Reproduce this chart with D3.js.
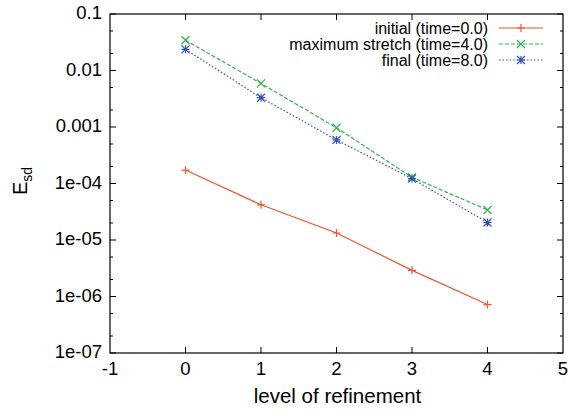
<!DOCTYPE html>
<html>
<head>
<meta charset="utf-8">
<script src="https://cdn.jsdelivr.net/npm/d3@7"></script>
<style>
  body { margin: 0; background: #fff; }
  svg { display: block; font-family: "Liberation Sans", Arial, sans-serif; }
</style>
</head>
<body>
<svg id="chart" width="568" height="411"></svg>
<script>
// refinement levels
const levels = [0, 1, 2, 3, 4];
// error norms per refinement level
const initialErr = [1.73e-4, 4.2e-5, 1.33e-5, 2.9e-6, 7.2e-7];
const stretchErr = [0.0343, 0.0059, 0.00097, 1.29e-4, 3.4e-5];
const finalErr = [0.0237, 0.0033, 5.9e-4, 1.22e-4, 2.04e-5];

const xTicks = [-1, 0, 1, 2, 3, 4, 5];
const yTicks = [1e-7, 1e-6, 1e-5, 1e-4, 1e-3, 1e-2, 1e-1];
const yTickLabels = ["1e-07", "1e-06", "1e-05", "1e-04", "0.001", "0.01", "0.1"];
const seriesNames = ["initial (time=0.0)", "maximum stretch (time=4.0)", "final (time=8.0)"];

const series = [
  { name: seriesNames[0], values: initialErr, color: "#ee5530", dash: null, marker: "plus" },
  { name: seriesNames[1], values: stretchErr, color: "#2db54c", dash: "4,2", marker: "cross" },
  { name: seriesNames[2], values: finalErr, color: "#3352b3", dash: "1.5,2", marker: "star" }
];

const margin = { left: 110, top: 14, right: 5, bottom: 58 };
const W = 568, H = 411;
const x0 = margin.left, x1 = W - margin.right, y0 = margin.top, y1 = H - margin.bottom;

const svg = d3.select("#chart");
const x = d3.scaleLinear().domain([-1, 5]).range([x0, x1]);
const y = d3.scaleLog().domain([1e-7, 0.1]).range([y1, y0]);

// minor ticks at 2x and 5x each decade
const minor = [];
for (let e = -7; e < -1; e++) { minor.push(2 * Math.pow(10, e), 5 * Math.pow(10, e)); }

const axisColor = "#000";
const g = svg.append("g");

// frame
g.append("rect").attr("x", x0).attr("y", y0).attr("width", x1 - x0).attr("height", y1 - y0)
  .attr("fill", "none").attr("stroke", axisColor).attr("stroke-width", 1.2);

// x ticks (bottom and top)
xTicks.forEach(t => {
  if (t === -1 || t === 5) return;
  g.append("line").attr("x1", x(t)).attr("x2", x(t)).attr("y1", y1).attr("y2", y1 - 6).attr("stroke", axisColor);
  g.append("line").attr("x1", x(t)).attr("x2", x(t)).attr("y1", y0).attr("y2", y0 + 6).attr("stroke", axisColor);
});
// y major ticks (left and right)
yTicks.forEach(t => {
  g.append("line").attr("x1", x0).attr("x2", x0 + 6).attr("y1", y(t)).attr("y2", y(t)).attr("stroke", axisColor);
  g.append("line").attr("x1", x1).attr("x2", x1 - 6).attr("y1", y(t)).attr("y2", y(t)).attr("stroke", axisColor);
});
minor.forEach(t => {
  g.append("line").attr("x1", x0).attr("x2", x0 + 3).attr("y1", y(t)).attr("y2", y(t)).attr("stroke", axisColor);
  g.append("line").attr("x1", x1).attr("x2", x1 - 3).attr("y1", y(t)).attr("y2", y(t)).attr("stroke", axisColor);
});

// tick labels
xTicks.forEach(t => {
  g.append("text").attr("x", x(t)).attr("y", y1 + 22).attr("text-anchor", "middle")
    .attr("font-size", 18.5).text(t);
});
yTicks.forEach((t, i) => {
  g.append("text").attr("x", x0 - 8).attr("y", y(t) + 5).attr("text-anchor", "end")
    .attr("font-size", 18.5).text(yTickLabels[i]);
});

// axis titles
g.append("text").attr("x", (x0 + x1) / 2 + 1).attr("y", 403).attr("text-anchor", "middle")
  .attr("font-size", 20.5).text("level of refinement");
const yl = g.append("text").attr("transform", "translate(27,181) rotate(-90)")
  .attr("text-anchor", "middle").attr("font-size", 20);
yl.append("tspan").text("E");
yl.append("tspan").attr("font-size", 14).attr("dy", 5).text("sd");

function drawMarker(sel, type, cx, cy, color) {
  const s = 4;
  const p = d3.path();
  if (type === "plus" || type === "star") {
    p.moveTo(cx - s, cy); p.lineTo(cx + s, cy);
    p.moveTo(cx, cy - s); p.lineTo(cx, cy + s);
  }
  if (type === "cross" || type === "star") {
    p.moveTo(cx - s, cy - s); p.lineTo(cx + s, cy + s);
    p.moveTo(cx - s, cy + s); p.lineTo(cx + s, cy - s);
  }
  sel.append("path").attr("d", p.toString()).attr("stroke", color).attr("stroke-width", 1.2).attr("fill", "none");
}

const line = d3.line().x((d, i) => x(levels[i])).y(d => y(d));

series.forEach(s => {
  g.append("path").datum(s.values).attr("d", line)
    .attr("fill", "none").attr("stroke", s.color).attr("stroke-width", 1.2)
    .attr("stroke-dasharray", s.dash);
  s.values.forEach((v, i) => drawMarker(g, s.marker, x(levels[i]), y(v), s.color));
});

// legend
const legX = 488, legY0 = 28, legDy = 16;
series.forEach((s, i) => {
  const ly = legY0 + i * legDy;
  g.append("text").attr("x", legX).attr("y", ly + 5.5).attr("text-anchor", "end")
    .attr("font-size", 16).text(s.name);
  g.append("line").attr("x1", 499).attr("x2", 543).attr("y1", ly).attr("y2", ly)
    .attr("stroke", s.color).attr("stroke-width", 1.2).attr("stroke-dasharray", s.dash);
  drawMarker(g, s.marker, 521, ly, s.color);
});
</script>
</body>
</html>
